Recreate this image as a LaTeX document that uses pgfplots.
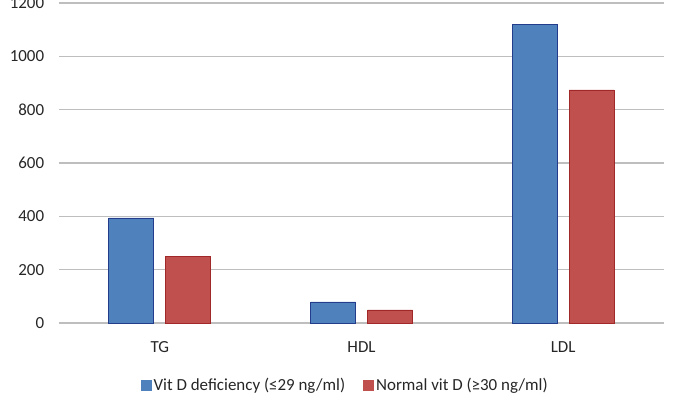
\documentclass[border=0pt]{standalone}
\usepackage{fontspec}
\setmainfont{Carlito}
\usepackage{pgfplots}
\pgfplotsset{compat=1.18}
\definecolor{vdblue}{RGB}{79,129,189}
\definecolor{vdblueedge}{RGB}{35,60,140}
\definecolor{vdred}{RGB}{192,80,77}
\definecolor{vdrededge}{RGB}{160,40,40}
\definecolor{gridgray}{RGB}{190,190,190}
\begin{document}
\fontsize{17}{20}\selectfont
\begin{tikzpicture}
\path[use as bounding box] (-59bp,-90bp) rectangle (626bp,323bp);
\begin{axis}[
    at={(0,0)}, anchor=south west,
    scale only axis,
    width=605bp, height=320bp,
    ybar=12bp, bar width=45bp,
    xmin=-0.5, xmax=2.5,
    ymin=0, ymax=1200,
    xtick={0,1,2},
    xticklabels={TG,HDL,LDL},
    ytick={0,200,...,1200},
    major tick length=0pt,
    ymajorgrids,
    grid style={gridgray, line width=1.2bp},
    axis x line*=bottom,
    axis y line*=left,
    x axis line style={draw=gridgray, line width=1.2bp, -},
    y axis line style={draw=none},
    every tick label/.append style={font=\fontsize{17}{20}\selectfont, text=black!85},
    yticklabel style={xshift=-9bp},
    xticklabel style={yshift=-13bp},
    /pgf/number format/assume math mode=true,
    /pgf/number format/1000 sep={},
    legend columns=2,
    legend style={at={(0.473,-0.194)}, anchor=center, draw=none,
        font=\fontsize{17}{20}\selectfont, text=black!85,
        /tikz/every even column/.append style={column sep=16bp}},
    legend image code/.code={\draw[#1, draw=none] (0bp,-5.5bp) rectangle (11bp,5.5bp);},
    clip=false,
]
\addplot[fill=vdblue, draw=vdblueedge, line width=0.8bp]
    coordinates {(0,394) (1,79) (2,1121)};
\addplot[fill=vdred, draw=vdrededge, line width=0.8bp]
    coordinates {(0,248) (1,49) (2,874)};
\legend{Vit D deficiency (≤29 ng/ml), Normal vit D (≥30 ng/ml)}
\end{axis}
\end{tikzpicture}
\end{document}
